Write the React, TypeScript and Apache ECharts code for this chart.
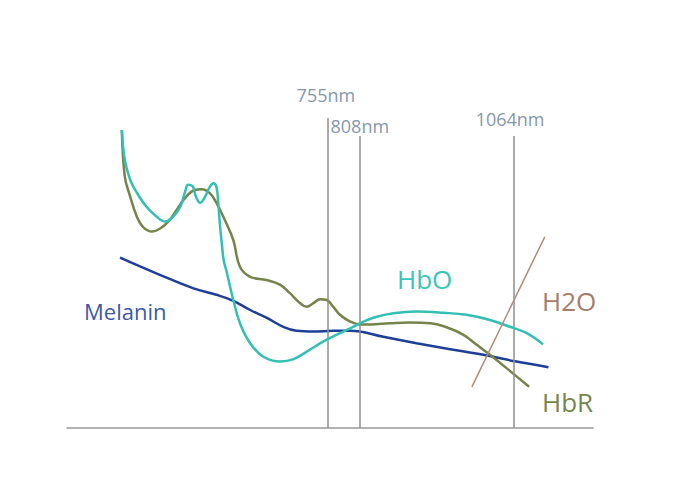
import React, { useEffect, useRef } from "react";
import * as echarts from "echarts";

// Wavelength (nm) and relative absorption (a.u., 0-100)
const hboWavelength = [413, 418, 427, 438, 454, 471, 485, 498, 510, 518, 523, 531, 536, 543, 551, 559, 565, 570, 573, 576, 579, 582, 587, 598, 609, 626, 648, 676, 698, 720, 747, 775, 797, 814, 836, 864, 902, 947, 985, 1024, 1057, 1085, 1112];
const hboValue = [74.5, 67, 62, 58.8, 55.3, 52.8, 51.6, 52.8, 55.3, 59.1, 60.8, 60.3, 57.8, 56.3, 57.8, 60.3, 61.2, 60.3, 56.3, 50.5, 46, 42, 39, 32, 26.2, 21.2, 17.8, 16.6, 17.2, 19.1, 21.6, 23.7, 25.3, 26.6, 27.8, 28.7, 29.1, 28.8, 28.3, 27, 25.3, 23.7, 20.9];

const hbrWavelength = [413, 418, 427, 438, 448, 463, 476, 490, 504, 518, 534, 546, 559, 570, 584, 598, 609, 626, 653, 676, 692, 709, 720, 731, 742, 753, 764, 775, 792, 808, 825, 858, 891, 925, 952, 980, 1002, 1024, 1052, 1089];
const hbrValue = [74.5, 62.8, 57.8, 52.8, 50.3, 49.1, 49.8, 51.6, 54.5, 57.5, 59.5, 59.7, 58.7, 56.3, 52, 47, 40.3, 37.8, 37, 35.8, 33.7, 31.2, 30.3, 31.2, 32.2, 32, 30.3, 28.3, 26.6, 25.9, 25.9, 26.2, 26.4, 26.2, 25.2, 23.3, 20.8, 18.3, 14.9, 10.3];

const melaninWavelength = [410, 476, 532, 570, 598, 626, 653, 681, 703, 731, 764, 792, 847, 902, 958, 1013, 1068, 1121];
const melaninValue = [42.6, 38.3, 34.9, 33.3, 31.8, 29.5, 27.6, 25.3, 24.3, 24.1, 24.3, 24.3, 22.8, 21.2, 19.7, 18.3, 16.6, 15.2];

const waterWavelength = [994, 1115];
const waterValue = [10.3, 47.8];

const laserWavelength = [755, 808, 1064];
const laserTop = [77.5, 73, 73];
const laserLabels = ["755nm", "808nm", "1064nm"];
const laserLabelGap = [14, 1.5, 8];
const laserLabelShift = [-2, 0, -4];

const seriesNames = ["Melanin", "HbO", "H2O", "HbR"];

const zip = (xs: number[], ys: number[]) => xs.map((x, i) => [x, ys[i]]);

const FONT = "'Open Sans', 'Noto Sans', sans-serif";

export default function App() {
  const ref = useRef<HTMLDivElement>(null);
  useEffect(() => {
    if (!ref.current) return;
    const chart = echarts.init(ref.current, undefined, { renderer: "svg" });
    const lineCommon = {
      type: "line" as const,
      showSymbol: false,
      symbol: "none",
      smooth: 0.4,
      silent: true,
    };
    chart.setOption({
      animation: false,
      backgroundColor: "#ffffff",
      grid: { left: 67, right: 88, top: 28, bottom: 57 },
      xAxis: {
        type: "value",
        min: 322,
        max: 1195,
        axisLine: { show: true, lineStyle: { color: "#9a9a9a", width: 1.5 } },
        axisTick: { show: false },
        axisLabel: { show: false },
        splitLine: { show: false },
      },
      yAxis: {
        type: "value",
        min: 0,
        max: 100,
        show: false,
        splitLine: { show: false },
      },
      series: [
        {
          name: "lasers",
          type: "line",
          data: [],
          silent: true,
          markLine: {
            silent: true,
            symbol: ["none", "none"],
            label: { show: false },
            lineStyle: { color: "#8f8f8f", width: 1.5, type: "solid" },
            data: laserWavelength.map((w, i) => [
              { coord: [w, laserTop[i]] },
              { coord: [w, 0] },
            ]),
          },
          markPoint: {
            silent: true,
            symbol: "circle",
            symbolSize: 0,
            data: laserWavelength.map((w, i) => ({
              name: laserLabels[i],
              coord: [w, laserTop[i]],
              label: {
                show: true,
                position: "top",
                distance: laserLabelGap[i],
                offset: [laserLabelShift[i], 0],
                formatter: laserLabels[i],
                color: "#8598aa",
                fontSize: 18,
                fontFamily: FONT,
              },
            })),
          },
        },
        {
          ...lineCommon,
          name: "Melanin",
          data: zip(melaninWavelength, melaninValue),
          lineStyle: { color: "#1f3f96", width: 2.5 },
          z: 3,
        },
        {
          ...lineCommon,
          name: "HbR",
          data: zip(hbrWavelength, hbrValue),
          lineStyle: { color: "#76834a", width: 2.5 },
          z: 4,
        },
        {
          ...lineCommon,
          name: "HbO",
          data: zip(hboWavelength, hboValue),
          lineStyle: { color: "#33bfb3", width: 2.5 },
          z: 5,
        },
        {
          ...lineCommon,
          smooth: false,
          name: "H2O",
          data: zip(waterWavelength, waterValue),
          lineStyle: { color: "#b38a7a", width: 1.5 },
          z: 6,
        },
      ],
      graphic: [
        {
          type: "text",
          x: 84,
          y: 311,
          style: {
            text: seriesNames[0],
            fill: "#3a5aa8",
            fontSize: 22,
            fontFamily: FONT,
            verticalAlign: "middle",
            align: "left",
          },
        },
        {
          type: "text",
          x: 397,
          y: 279,
          style: {
            text: seriesNames[1],
            fill: "#3cc4b8",
            fontSize: 26,
            fontFamily: FONT,
            verticalAlign: "middle",
            align: "left",
          },
        },
        {
          type: "text",
          x: 542,
          y: 301,
          style: {
            text: seriesNames[2],
            fill: "#a67c6a",
            fontSize: 26,
            fontFamily: FONT,
            verticalAlign: "middle",
            align: "left",
          },
        },
        {
          type: "text",
          x: 542,
          y: 402,
          style: {
            text: seriesNames[3],
            fill: "#76854a",
            fontSize: 26,
            fontFamily: FONT,
            verticalAlign: "middle",
            align: "left",
          },
        },
      ],
    });
    return () => chart.dispose();
  }, []);
  return (
    <div
      ref={ref}
      style={{ position: "fixed", left: 0, top: 0, width: 681, height: 485 }}
    />
  );
}
